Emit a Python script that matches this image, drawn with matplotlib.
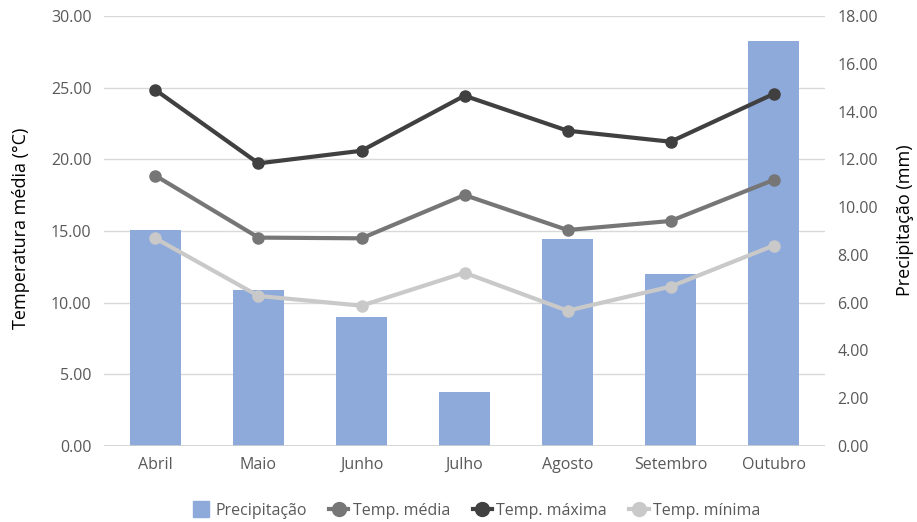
import numpy as np
import matplotlib.pyplot as plt
from matplotlib.lines import Line2D

plt.rcParams['font.family'] = ['Open Sans', 'DejaVu Sans']

# data
meses = ['Abril', 'Maio', 'Junho', 'Julho', 'Agosto', 'Setembro', 'Outubro']
precipitacao = [9.04, 6.53, 5.41, 2.25, 8.65, 7.19, 16.97]
temp_media = [18.86, 14.54, 14.49, 17.51, 15.07, 15.70, 18.56]
temp_maxima = [24.84, 19.72, 20.60, 24.44, 22.00, 21.23, 24.56]
temp_minima = [14.49, 10.47, 9.79, 12.09, 9.44, 11.12, 13.98]

bar_color = '#8eaadb'
c_media = '#767676'
c_max = '#404040'
c_min = '#c9c9c9'
tick_color = '#595959'

fig = plt.figure(figsize=(9.17, 5.22), dpi=100)
ax = fig.add_axes([0.1134, 0.1456, 0.7863, 0.8237])
ax2 = ax.twinx()

x = np.arange(len(meses))

# bars belong to the right axis but should sit behind the lines
ax2.bar(x, precipitacao, width=0.5, color=bar_color, zorder=1)
ax2.set_ylim(0, 18)
ax2.set_yticks(np.arange(0, 18.01, 2))
ax2.set_yticklabels([f'{v:.2f}' for v in np.arange(0, 18.01, 2)])

ax.set_zorder(ax2.get_zorder() + 1)
ax.patch.set_visible(False)

for vals, col in [(temp_media, c_media), (temp_maxima, c_max), (temp_minima, c_min)]:
    ax.plot(x, vals, color=col, lw=3, marker='o', ms=8, zorder=3)

ax.set_ylim(0, 30)
ax.set_xlim(-0.5, len(meses) - 0.5)
ax.set_yticks(np.arange(0, 30.01, 5))
ax.set_yticklabels([f'{v:.2f}' for v in np.arange(0, 30.01, 5)])
ax.set_xticks(x)
ax.set_xticklabels(meses)

# gridlines drawn on the right-axis (behind bars) in left-axis units
for v in np.arange(5, 30.01, 5):
    ax2.axhline(v * 18 / 30, color='#d9d9d9', lw=1, zorder=0)
ax2.axhline(0, color='#d0d0d0', lw=1.2, zorder=2)

for a in (ax, ax2):
    for s in a.spines.values():
        s.set_visible(False)
    a.tick_params(length=0, labelsize=11.5, labelcolor=tick_color)
ax.tick_params(axis='y', pad=9)
ax2.tick_params(axis='y', pad=9)
ax.tick_params(axis='x', pad=8, labelsize=11.5)

fig.text(21 / 917, 1 - 228 / 522, 'Temperatura média (°C)', rotation=90,
         ha='center', va='center', fontsize=13)
fig.text(905 / 917, 1 - 220 / 522, 'Precipitação (mm)', rotation=90,
         ha='center', va='center', fontsize=13)

handles = [
    Line2D([], [], color=bar_color, ls='none', marker='s', ms=12),
    Line2D([], [], color=c_media, lw=3, marker='o', ms=10),
    Line2D([], [], color=c_max, lw=3, marker='o', ms=10),
    Line2D([], [], color=c_min, lw=3, marker='o', ms=10),
]
labels = ['Precipitação', 'Temp. média', 'Temp. máxima', 'Temp. mínima']
leg = fig.legend(handles, labels, loc='center', bbox_to_anchor=(0.519, 0.022), ncol=4,
                 frameon=False, fontsize=11.5, handlelength=1.2, handletextpad=0.3,
                 columnspacing=1.4)
for t in leg.get_texts():
    t.set_color(tick_color)

fig.savefig('out.png', dpi=100)
